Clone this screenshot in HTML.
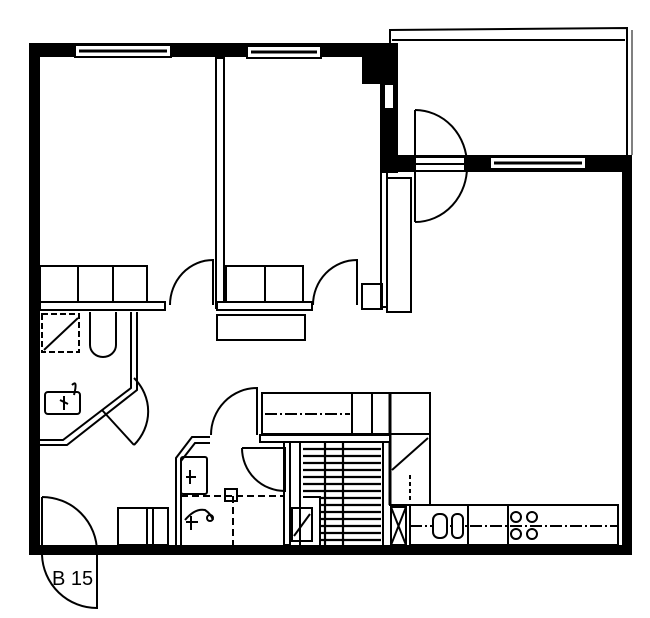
<!DOCTYPE html>
<html><head><style>
html,body{margin:0;padding:0;background:#fff}
svg{display:block}
text{font-family:"Liberation Sans",sans-serif}
</style></head><body>
<svg width="650" height="618" viewBox="0 0 650 618" xmlns="http://www.w3.org/2000/svg">
<g fill="none" stroke="#000" stroke-width="2">
<rect x="29" y="43" width="11" height="512" fill="#000" stroke="none"/>
<rect x="29" y="43" width="369" height="14" fill="#000" stroke="none"/>
<rect x="29" y="545" width="603" height="10" fill="#000" stroke="none"/>
<rect x="622" y="155" width="10" height="400" fill="#000" stroke="none"/>
<rect x="380" y="43" width="18" height="130" fill="#000" stroke="none"/>
<rect x="362" y="57" width="36" height="27" fill="#000" stroke="none"/>
<rect x="380" y="155" width="252" height="17" fill="#000" stroke="none"/>
<rect x="75" y="45" width="96" height="12" fill="#fff"/>
<line x1="79" y1="51" x2="167" y2="51" stroke-width="3"/>
<rect x="247" y="46" width="74" height="12" fill="#fff"/>
<line x1="251" y1="52" x2="317" y2="52" stroke-width="3"/>
<rect x="490" y="157" width="96" height="12" fill="#fff"/>
<line x1="494" y1="163" x2="582" y2="163" stroke-width="3"/>
<rect x="384" y="84" width="10" height="25" fill="#fff"/>
<rect x="415" y="157" width="50" height="14" fill="#fff"/>
<line x1="415" y1="164" x2="465" y2="164"/>
<polyline points="390,43 390,30 627,28 627,155"/>
<line x1="392" y1="40" x2="625" y2="40"/>
<line x1="632" y1="30" x2="632" y2="155" stroke-width="1"/>
<line x1="415" y1="110" x2="415" y2="222"/>
<path d="M415,110 A52,55 0 0 1 467,165 A52,55 0 0 1 415,222"/>
<rect x="216" y="58" width="8" height="250" fill="#fff"/>
<rect x="381" y="172" width="6" height="135" fill="#fff"/>
<rect x="387" y="178" width="24" height="134" fill="#fff"/>
<rect x="362" y="284" width="20" height="25"/>
<rect x="40" y="302" width="125" height="8" fill="#fff"/>
<rect x="217" y="302" width="95" height="8" fill="#fff"/>
<rect x="40" y="266" width="107" height="36"/>
<line x1="78" y1="266" x2="78" y2="302"/><line x1="113" y1="266" x2="113" y2="302"/>
<rect x="226" y="266" width="77" height="36"/>
<line x1="265" y1="266" x2="265" y2="302"/>
<rect x="217" y="315" width="88" height="25"/>
<path d="M170,305 A43,45 0 0 1 213,260 L213,305"/>
<path d="M313,305 A44,45 0 0 1 357,260 L357,305"/>
<polyline points="137,312 137,390 67,445 40,445"/>
<polyline points="131,312 131,388 63,440 40,440"/>
<rect x="42" y="314" width="37" height="38" stroke-dasharray="6,3"/>
<line x1="44" y1="350" x2="78" y2="318"/>
<path d="M90,312 L90,345 A13,12 0 0 0 116,345 L116,312"/>
<rect x="45" y="392" width="35" height="22" rx="3"/>
<path d="M60,400 l8,4 M64,396 v14 M72,385 q6,-6 2,10"/>
<line x1="102" y1="410" x2="134" y2="445"/>
<path d="M134,378 A55,50 0 0 1 134,445"/>
<line x1="42" y1="497" x2="42" y2="545"/>
<path d="M42,497 A55,55 0 0 1 97,552"/>
<path d="M42,555 A55,55 0 0 0 97,608 L97,555"/>
<path d="M211,435 A46,47 0 0 1 257,388 L257,435"/>
<rect x="262" y="393" width="168" height="41"/>
<line x1="352" y1="393" x2="352" y2="434"/><line x1="372" y1="393" x2="372" y2="434"/><line x1="390" y1="393" x2="390" y2="505" stroke-width="3"/>
<line x1="265" y1="414" x2="350" y2="414" stroke-dasharray="12,3,2,3"/>
<rect x="390" y="434" width="40" height="71"/>
<line x1="392" y1="470" x2="428" y2="438"/>
<line x1="410" y1="475" x2="410" y2="503" stroke-dasharray="4,3"/>
<polyline points="176,545 176,458 192,437 210,437"/>
<polyline points="181,545 181,461 195,443 210,443"/>
<rect x="260" y="435" width="130" height="7" fill="#fff"/>
<rect x="284" y="442" width="6" height="103" fill="#fff"/>
<path d="M242,448 L285,448 L285,491 A43,43 0 0 1 242,448"/>
<rect x="181" y="457" width="26" height="37" rx="2"/>
<path d="M186,477 h10 M190,470 v14"/>
<line x1="181" y1="496" x2="284" y2="496" stroke-dasharray="7,4"/>
<line x1="233" y1="496" x2="233" y2="545" stroke-dasharray="7,4"/>
<rect x="225" y="489" width="12" height="12"/>
<path d="M185,520 q10,-12 20,-10 q6,4 8,10 M186,522 h12 M191,516 v14"/>
<circle cx="210" cy="518" r="3"/>
<rect x="292" y="508" width="20" height="33"/>
<line x1="294" y1="536" x2="310" y2="514"/>
<polyline points="300,545 300,442 383,442 383,545"/>
<polyline points="303,497 320,497 320,545"/>
<g stroke-width="2.2">
<line x1="303" y1="449" x2="381" y2="449"/><line x1="303" y1="456" x2="381" y2="456"/>
<line x1="303" y1="463" x2="381" y2="463"/><line x1="303" y1="470" x2="381" y2="470"/>
<line x1="303" y1="477" x2="381" y2="477"/><line x1="303" y1="484" x2="381" y2="484"/>
<line x1="303" y1="491" x2="381" y2="491"/><line x1="320" y1="498" x2="381" y2="498"/>
<line x1="320" y1="505" x2="381" y2="505"/><line x1="320" y1="512" x2="381" y2="512"/>
<line x1="320" y1="519" x2="381" y2="519"/><line x1="320" y1="526" x2="381" y2="526"/>
<line x1="320" y1="533" x2="381" y2="533"/><line x1="320" y1="540" x2="381" y2="540"/>
<line x1="325" y1="442" x2="325" y2="545"/><line x1="343" y1="442" x2="343" y2="545"/>
</g>
<rect x="391" y="507" width="15" height="38"/>
<path d="M391,507 L406,545 M406,507 L391,545"/>
<rect x="118" y="508" width="50" height="37"/>
<line x1="147" y1="508" x2="147" y2="545"/><line x1="153" y1="508" x2="153" y2="545"/>
<rect x="410" y="505" width="208" height="40"/>
<line x1="468" y1="505" x2="468" y2="545"/><line x1="508" y1="505" x2="508" y2="545"/>
<line x1="410" y1="526" x2="618" y2="526" stroke-dasharray="12,3,2,3"/>
<rect x="433" y="514" width="14" height="24" rx="6" fill="#fff"/>
<rect x="452" y="514" width="11" height="24" rx="5" fill="#fff"/>
<circle cx="516" cy="517" r="5"/><circle cx="532" cy="517" r="5"/>
<circle cx="516" cy="534" r="5"/><circle cx="532" cy="534" r="5"/>
</g>
<text x="52" y="585" font-size="20">B 15</text>
</svg>
</body></html>
